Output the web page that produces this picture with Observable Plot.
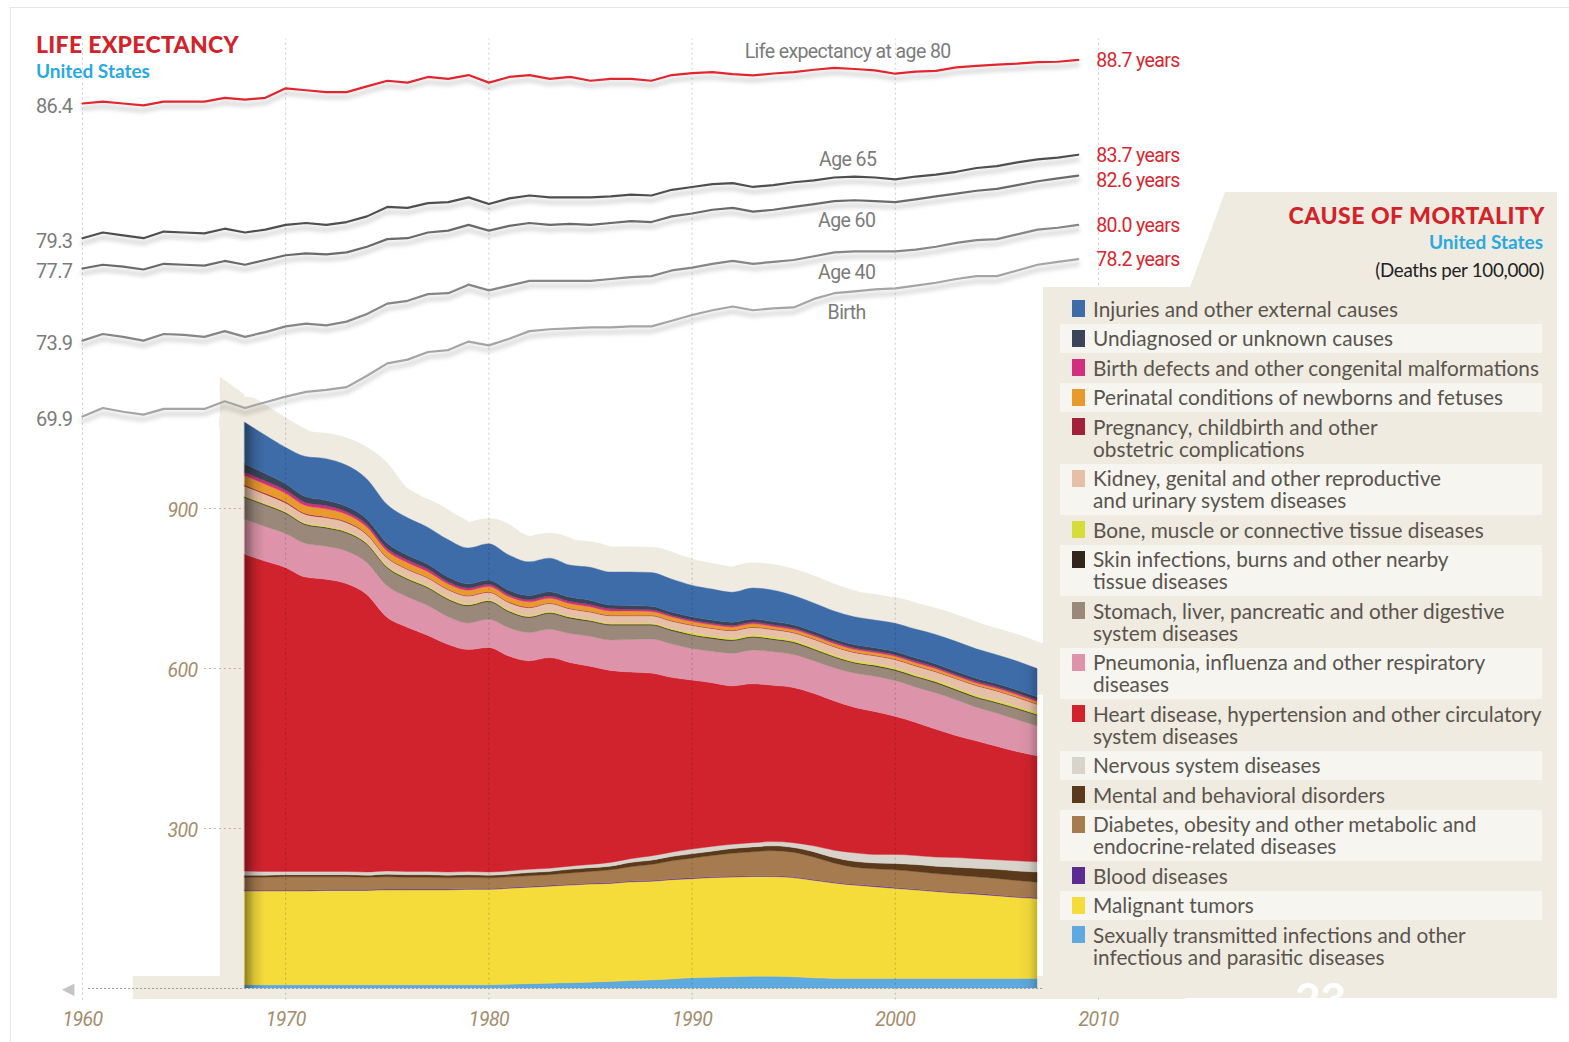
<!DOCTYPE html>
<html><head><meta charset="utf-8">
<script src="https://cdn.jsdelivr.net/npm/d3@7"></script>
<script src="https://cdn.jsdelivr.net/npm/@observablehq/plot@0.6"></script>
<style>
html,body{margin:0;padding:0;background:#fff;}
#wrap{position:relative;width:1569px;height:1042px;overflow:hidden;font-family:Lato,"Open Sans",sans-serif;}
.layer{position:absolute;left:0;top:0;}
.layer svg{overflow:visible;}
#plotA text,#plotB text{letter-spacing:-0.6px;}
.abs{position:absolute;white-space:pre;line-height:24px;}
#panel{position:absolute;left:1043px;top:192px;width:514px;height:806px;background:#efebe0;
 clip-path:polygon(182px 0,514px 0,514px 806px,0 806px,0 95px,147px 95px);}
#legend{position:absolute;left:1060px;top:294px;width:482px;}
.row{position:relative;padding:3.75px 0 3.75px 33px;line-height:22px;font-size:20.8px;color:#59544e;white-space:pre;}
.sw{position:absolute;left:12px;top:6px;width:13px;height:17px;}
#frame{position:absolute;left:10px;top:7px;width:1570px;height:1040px;border-top:1px solid #e6e6e6;border-left:1px solid #e6e6e6;}
</style></head><body><div id="wrap"><div id="frame"></div></div>
<script>
// ---------- Life expectancy (United States), 1960–2009 ----------
const leYears = [1960,1961,1962,1963,1964,1965,1966,1967,1968,1969,1970,1971,1972,1973,1974,1975,1976,1977,1978,1979,1980,1981,1982,1983,1984,1985,1986,1987,1988,1989,1990,1991,1992,1993,1994,1995,1996,1997,1998,1999,2000,2001,2002,2003,2004,2005,2006,2007,2008,2009];
const leAge80 = [86.4,86.5,86.4,86.3,86.5,86.5,86.5,86.7,86.6,86.7, 87.2,87.1,87.0,87.0,87.3,87.6,87.5,87.8,87.7,87.9, 87.5,87.8,87.9,87.7,87.8,87.6,87.7,87.7,87.6,87.9, 88.0,88.05,87.95,87.88,87.98,88.05,88.18,88.28,88.22,88.15, 87.97,88.08,88.12,88.3,88.38,88.45,88.5,88.58,88.6,88.7];
const leAge65 = [79.3,79.6,79.45,79.3,79.65,79.6,79.55,79.8,79.6,79.75, 80.0,80.1,80.0,80.15,80.45,80.95,80.9,81.15,81.2,81.45, 81.1,81.4,81.55,81.45,81.45,81.45,81.5,81.6,81.55,81.85, 82.0,82.15,82.2,82.0,82.1,82.25,82.35,82.5,82.55,82.5, 82.4,82.55,82.65,82.8,83.0,83.1,83.3,83.45,83.55,83.7];
const leAge60 = [77.7,77.9,77.8,77.65,77.95,77.9,77.85,78.1,77.9,78.15, 78.4,78.5,78.45,78.55,78.85,79.25,79.3,79.6,79.7,80.0, 79.7,79.95,80.1,80.0,80.05,80.0,80.1,80.2,80.15,80.45, 80.6,80.8,80.9,80.7,80.8,80.95,81.1,81.25,81.3,81.25, 81.2,81.35,81.5,81.65,81.8,81.9,82.1,82.3,82.45,82.6];
const leAge40 = [73.9,74.25,74.1,73.9,74.25,74.2,74.1,74.4,74.1,74.35, 74.65,74.8,74.7,74.9,75.3,75.85,76.0,76.35,76.4,76.85, 76.55,76.8,77.05,77.05,77.05,77.05,77.15,77.25,77.3,77.6, 77.75,77.95,78.1,77.95,78.05,78.15,78.35,78.55,78.6,78.6, 78.6,78.7,78.85,79.05,79.2,79.25,79.5,79.75,79.85,80.0];
const leBirth = [69.9,70.35,70.15,70.0,70.3,70.3,70.3,70.7,70.35,70.65, 70.95,71.2,71.3,71.45,72.05,72.7,72.9,73.3,73.4,73.85, 73.65,74.0,74.4,74.5,74.55,74.6,74.6,74.65,74.65,74.95, 75.25,75.5,75.7,75.5,75.6,75.65,76.1,76.4,76.5,76.6, 76.65,76.8,76.95,77.15,77.3,77.3,77.6,77.9,78.05,78.2];
const leNames = ["Life expectancy at age 80","Age 65","Age 60","Age 40","Birth"];
const leColors = ["#e2262f","#4f4f4f","#6a6a6a","#868686","#a5a5a5"];
const leLabelAbove = ["Life expectancy at age 80","Age 65"];
const leLabelYear = 1998;

// ---------- Cause of mortality (deaths per 100,000), 1968–2007 ----------
const stackYears = [1968,1969,1970,1971,1972,1973,1974,1975,1976,1977,1978,1979,1980,1981,1982,1983,1984,1985,1986,1987,1988,1989,1990,1991,1992,1993,1994,1995,1996,1997,1998,1999,2000,2001,2002,2003,2004,2005,2006,2007];
const categories = [
 "Injuries and other external causes",
 "Undiagnosed or unknown causes",
 "Birth defects and other congenital malformations",
 "Perinatal conditions of newborns and fetuses",
 "Pregnancy, childbirth and other\nobstetric complications",
 "Kidney, genital and other reproductive\nand urinary system diseases",
 "Bone, muscle or connective tissue diseases",
 "Skin infections, burns and other nearby\ntissue diseases",
 "Stomach, liver, pancreatic and other digestive\nsystem diseases",
 "Pneumonia, influenza and other respiratory\ndiseases",
 "Heart disease, hypertension and other circulatory\nsystem diseases",
 "Nervous system diseases",
 "Mental and behavioral disorders",
 "Diabetes, obesity and other metabolic and\nendocrine-related diseases",
 "Blood diseases",
 "Malignant tumors",
 "Sexually transmitted infections and other\ninfectious and parasitic diseases"
];
const fillColors = ["#3e6ca8","#3b4458","#d2307f","#e99a2d","#a3203a","#e6c0a6","#d6dc3a","#33251b","#9a887b","#dd94aa","#d1232e","#d8d4cb","#5b3a1b","#a67b50","#5b2b94","#f6dc3b","#5ea9dd"];
const injuries  = [78,72,68,75,78,77,75,72,70,69, 70,67,68,66,63,63,60,62,62,63, 63,62,59,58,56,58,59,55,53,52, 52,52,53,54,55,56,55,54,54,53];
const undiagnosed = [16,14,12,11,10,10,10,10,9,9, 9,8,8,8,8,8,8,8,7,7, 7,6,6,6,6,6,6,6,6,6, 6,6,6,6,6,6,6,6,6,6];
const birthDefects = [6,6,6,6,6,5,5,5,5,5, 4,4,4,4,4,4,4,4,4,3, 3,3,3,3,3,3,3,3,3,3, 3,3,3,3,3,3,3,3,3,3];
const perinatal = [18,17,16,15,15,14,13,12,12,11, 10,10,10,10,10,9,9,9,8,8, 7,7,6,6,6,6,5,5,5,5, 5,5,5,5,5,4,4,4,4,4];
const pregnancy = [2,2,2,1.5,1.5,1.5,1,1,1,1, 1,1,1,1,1,1,1,1,1,1, 1,1,1,1,1,1,1,1,1,1, 1,1,1,1,1,1,1,1,1,1];
const kidney = [18,17,16,16,16,16,15,15,15,15, 15,15,14,14,15,15,14,14,14,14, 14,14,14,14,14,14,14,14,15,15, 15,15,16,16,16,17,18,18,17,16];
const bone = [2,2,2,2,2,2,2,2,2,2, 2,2,2,2,2,2,2,2,2,2, 2,2,3,3,3,3,3,3,3,3, 3,3,3,3,3,3,3,3,3,3];
const skin = [1.5,1.5,1.5,1.5,1.5,1.5,1.5,1.5,1.5,1.5, 1.5,1.5,1.5,1.5,1.5,1.5,1.5,1.5,1.5,1.5, 1.5,1.5,1.5,1.5,1.5,1.5,1.5,1.5,1.5,1.5, 1.5,1.5,1.5,1.5,1.5,1.5,1.5,1.5,1.5,1.5];
const stomach = [40,40,38,35,34,34,34,34,33,33, 32,32,33,30,28,30,29,28,28,27, 26,25,25,24,24,24,23,22,21,20, 19,19,19,19,19,18,18,19,20,20];
const pneumonia = [66,65,64,63,62,61,60,59,57,56, 52,50,53,53,53,53,54,56,57,61, 64,63,59,59,61,63,63,62,61,62, 64,66,67,66,68,67,63,62,60,56];
const heart = [594,582,570,552,548,540,521,476,458,443, 427,416,421,403,391,395,382,372,360,350, 343,328,317,307,297,298,293,291,286,280, 273,268,259,250,240,229,221,213,205,199];
const nervous = [8,7,6,6,6,6,6,6,6,6, 6,6,6,6,6,6,6,6,7,7, 8,8,9,9,8,8,8,9,11,14, 16,16,17,17,17,18,18,18,19,19];
const mental = [4,4,4,4,4,4,4,5,5,5, 5,5,5,5,6,6,7,7,7,8, 8,8,8,8,9,9,9,9,10,10, 11,11,12,13,14,15,16,17,18,19];
const diabetes = [24,24,25,25,24,24,23,23,22,22, 21,21,20,20,20,20,21,22,24,27, 30,34,37,40,43,45,47,46,42,36, 32,32,33,33,32,32,31,31,30,29];
const blood = [1.5,1.5,1.5,1.5,1.5,1.5,1.5,1.5,1.5,1.5, 1.5,1.5,1.5,1.5,1.5,1.5,1.5,1.5,1.5,1.5, 1.5,1.5,1.5,1.5,1.5,1.5,1.5,1.5,1.5,1.5, 1.5,1.5,1.5,1.5,1.5,1.5,1.5,1.5,1.5,1.5];
const malignant = [176,176,176,176,177,177,177,178,178,178, 178,179,179,180,181,182,183,184,184,185, 185,186,186,187,187,187,187,186,183,179, 175,172,169,166,163,160,158,155,152,150];
const infectious = [6,6,6,6,6,6,6,6,6,6, 6,6,6,7,8,9,10,11,12,14, 15,17,19,20,21,22,22,21,19,18, 18,18,18,18,18,18,18,18,18,18];

// ---------- tick labels ----------
const yearTicks = [1960,1970,1980,1990,2000,2010];
const deathTicks = [300,600,900];

// ---------- build tables ----------
const W = 1569, H = 1042;
const beige = "#efebe0";
const stackSeries = [injuries,undiagnosed,birthDefects,perinatal,pregnancy,kidney,bone,skin,stomach,pneumonia,heart,nervous,mental,diabetes,blood,malignant,infectious];
const stackLong = [];
for (let k = categories.length - 1; k >= 0; k--) {
  stackYears.forEach((year, i) => stackLong.push({year, cause: categories[k], value: stackSeries[k][i]}));
}
const totals = stackYears.map((year, i) => ({year, total: stackSeries.reduce((s, a) => s + a[i], 0)}));
// decorative beige backdrop: left tab before the first year
const tab = [{year: totals[0].year - 1.22, top: totals[0].total + 85}, {year: totals[0].year, top: totals[0].total + 52}];

const leSeries = [leAge80, leAge65, leAge60, leAge40, leBirth];
const leLong = [];
leSeries.forEach((vals, k) => leYears.forEach((year, i) => leLong.push({year, series: leNames[k], value: vals[i]})));
const leStart = leSeries.map((vals, k) => ({year: leYears[0], series: leNames[k], value: vals[0]}));
const leEnd = leSeries.map((vals, k) => ({year: leYears[leYears.length - 1], series: leNames[k], value: vals[vals.length - 1]}));
const leMid = leSeries.map((vals, k) => ({year: leLabelYear, series: leNames[k], value: vals[leYears.indexOf(leLabelYear)]}));

const xScale = {domain: [1960, 2010], range: [82, 1098], axis: null};
const k = 160 / 300;
const font = "Roboto, 'Open Sans', sans-serif";

// ---------- Plot A : stacked mortality areas ----------
const plotA = Plot.plot({
  width: W, height: H, margin: 0,
  x: xScale,
  y: {domain: [-60, 1850], range: [988 + 60 * k, 988 - 1850 * k], axis: null},
  color: {domain: categories, range: fillColors},
  style: {background: "transparent", overflow: "visible"},
  marks: [
    Plot.ruleY([0], {x1: 1962.5, x2: 2014.3, stroke: beige, strokeWidth: 23, dy: -1}),
    Plot.areaY(tab, {x: "year", y1: 0, y2: "top", fill: beige}),
    Plot.line(totals, {x: "year", y: "total", stroke: beige, strokeWidth: 52, strokeLinecap: "round", strokeLinejoin: "round", curve: "monotone-x"}),
    Plot.areaY(stackLong, {x: "year", y: "value", z: "cause", fill: "cause", stroke: "cause", strokeWidth: 0.4, curve: "monotone-x"}),
    Plot.areaY(totals.slice(0, 2), {x: "year", y: "total", fill: "#000", fillOpacity: 0.12}),
    Plot.areaY(totals.slice(-2), {x: "year", y: "total", fill: "#000", fillOpacity: 0.06}),
    Plot.ruleX(yearTicks, {y1: -22, y2: 1780, stroke: "#000", strokeOpacity: 0.2, strokeDasharray: "2,3"}),
    Plot.ruleY([0], {x1: 1960.3, x2: 2014.3, stroke: "#9c9c9c", strokeDasharray: "2,2"}),
    Plot.text([0], {y: d => d, frameAnchor: "left", dx: 61, text: () => "◀", fill: "#c4c4c4", fontSize: 16}),
    Plot.ruleY(deathTicks, {x1: 1966, x2: 1968, stroke: "#a08a6a", strokeOpacity: 0.6, strokeDasharray: "2,3"}),
    Plot.text(deathTicks, {y: d => d, frameAnchor: "left", dx: 197, dy: 2, textAnchor: "end", text: d => String(d), fill: "#a48c6c", fontSize: 19.5, fontStyle: "italic", fontFamily: font}),
    Plot.text(yearTicks, {x: d => d, frameAnchor: "bottom", dy: -17, text: d => String(d), fill: "#a48c6c", fontSize: 19.5, fontStyle: "italic", fontFamily: font})
  ]
});
const ns = "http://www.w3.org/2000/svg";
function grad(id, stops) {
  const g = document.createElementNS(ns, "linearGradient");
  g.setAttribute("id", id); g.setAttribute("x1", "0"); g.setAttribute("x2", "1"); g.setAttribute("y1", "0"); g.setAttribute("y2", "0");
  stops.forEach(([o, op]) => { const s = document.createElementNS(ns, "stop"); s.setAttribute("offset", o); s.setAttribute("stop-color", "#000"); s.setAttribute("stop-opacity", op); g.appendChild(s); });
  return g;
}
const defsA = document.createElementNS(ns, "defs");
defsA.appendChild(grad("shadeL", [["0", 0.42], ["0.5", 0.12], ["1", 0]]));
defsA.appendChild(grad("shadeR", [["0", 0], ["0.6", 0.04], ["1", 0.2]]));
plotA.insertBefore(defsA, plotA.firstChild);
// edge shading: turn the two thin overlay areas into gradients
const areaGroups = plotA.querySelectorAll('g[aria-label="area"]');
if (areaGroups.length >= 4) {
  [[areaGroups[2], "url(#shadeL)"], [areaGroups[3], "url(#shadeR)"]].forEach(([g, f]) => {
    g.setAttribute("fill", f); g.removeAttribute("fill-opacity");
    g.querySelectorAll("path").forEach(p => { p.setAttribute("fill", f); p.removeAttribute("fill-opacity"); });
  });
}
const layerA = document.createElement("div");
layerA.className = "layer"; layerA.id = "plotA";
layerA.appendChild(plotA);
const wrap = document.getElementById("wrap");
wrap.appendChild(layerA);

// ---------- Legend panel (HTML) ----------
const panel = document.createElement("div"); panel.id = "panel"; wrap.appendChild(panel);
function addText(txt, css) { const d = document.createElement("div"); d.className = "abs"; d.textContent = txt; d.style.cssText += css; wrap.appendChild(d); return d; }
addText("CAUSE OF MORTALITY", "right:24px;top:203px;font-weight:900;font-size:23px;color:#d2232a;letter-spacing:0.5px;");
addText("United States", "right:26px;top:230px;font-weight:700;font-size:19px;color:#2aa9e0;");
addText("(Deaths per 100,000)", "right:25px;top:258px;font-size:18.8px;color:#222;letter-spacing:-0.3px;");
const legend = document.createElement("div"); legend.id = "legend"; wrap.appendChild(legend);
categories.forEach((c, i) => {
  const r = document.createElement("div"); r.className = "row";
  if (i % 2 === 1) r.style.background = "#f7f5ef";
  const s = document.createElement("span"); s.className = "sw"; s.style.background = fillColors[i];
  r.appendChild(s); r.appendChild(document.createTextNode(c));
  legend.appendChild(r);
});
addText("23", "left:1295px;top:976px;font-weight:700;font-size:44px;line-height:44px;color:#fff;");

// ---------- Plot B : life expectancy lines ----------
const plotB = Plot.plot({
  width: W, height: H, margin: 0,
  x: xScale,
  y: {domain: [60, 92], range: [103 + (86.4 - 60) * 18.97, 103 - (92 - 86.4) * 18.97], axis: null},
  color: {domain: leNames, range: leColors},
  style: {background: "transparent", overflow: "visible"},
  marks: [
    Plot.line(leLong, {x: "year", y: "value", z: "series", stroke: "#000", strokeOpacity: 0.16, strokeWidth: 4, dy: 5}),
    Plot.line(leLong, {x: "year", y: "value", z: "series", stroke: "series", strokeWidth: 2.2}),
    Plot.text(leStart, {x: "year", y: "value", text: d => d.value.toFixed(1), textAnchor: "end", dx: -10, dy: 3, fill: "#7b7b7b", fontSize: 20, fontFamily: font}),
    Plot.text(leEnd.filter(d => d.series !== "Age 60"), {x: "year", y: "value", text: d => d.value.toFixed(1) + " years", textAnchor: "start", dx: 18, dy: 1, fill: "#d8262f", fontSize: 19.5, fontFamily: font}),
    Plot.text(leEnd.filter(d => d.series === "Age 60"), {x: "year", y: "value", text: d => d.value.toFixed(1) + " years", textAnchor: "start", dx: 18, dy: 5, fill: "#d8262f", fontSize: 19.5, fontFamily: font}),
    Plot.text(leMid.filter(d => leLabelAbove.includes(d.series)), {x: "year", y: "value", text: "series", dx: -7, dy: -17, fill: "#7b7b7b", fontSize: 19.5, fontFamily: font}),
    Plot.text(leMid.filter(d => !leLabelAbove.includes(d.series)), {x: "year", y: "value", text: "series", dx: -8, dy: 21, fill: "#7b7b7b", fontSize: 19.5, fontFamily: font})
  ]
});
const defs = document.createElementNS(ns, "defs");
const filt = document.createElementNS(ns, "filter");
filt.setAttribute("id", "leShadow"); filt.setAttribute("x", "-5%"); filt.setAttribute("y", "-50%"); filt.setAttribute("width", "110%"); filt.setAttribute("height", "200%");
const blur = document.createElementNS(ns, "feGaussianBlur"); blur.setAttribute("stdDeviation", "2.2");
filt.appendChild(blur); defs.appendChild(filt); plotB.insertBefore(defs, plotB.firstChild);
const shadowG = plotB.querySelector('g[aria-label="line"]');
if (shadowG) shadowG.setAttribute("filter", "url(#leShadow)");
const layerB = document.createElement("div");
layerB.className = "layer"; layerB.id = "plotB";
layerB.appendChild(plotB);
wrap.appendChild(layerB);

addText("LIFE EXPECTANCY", "left:36px;top:32px;font-weight:900;font-size:23px;color:#d2232a;letter-spacing:0.3px;");
addText("United States", "left:36px;top:59px;font-weight:700;font-size:19px;color:#2aa9e0;");
</script></body></html>
